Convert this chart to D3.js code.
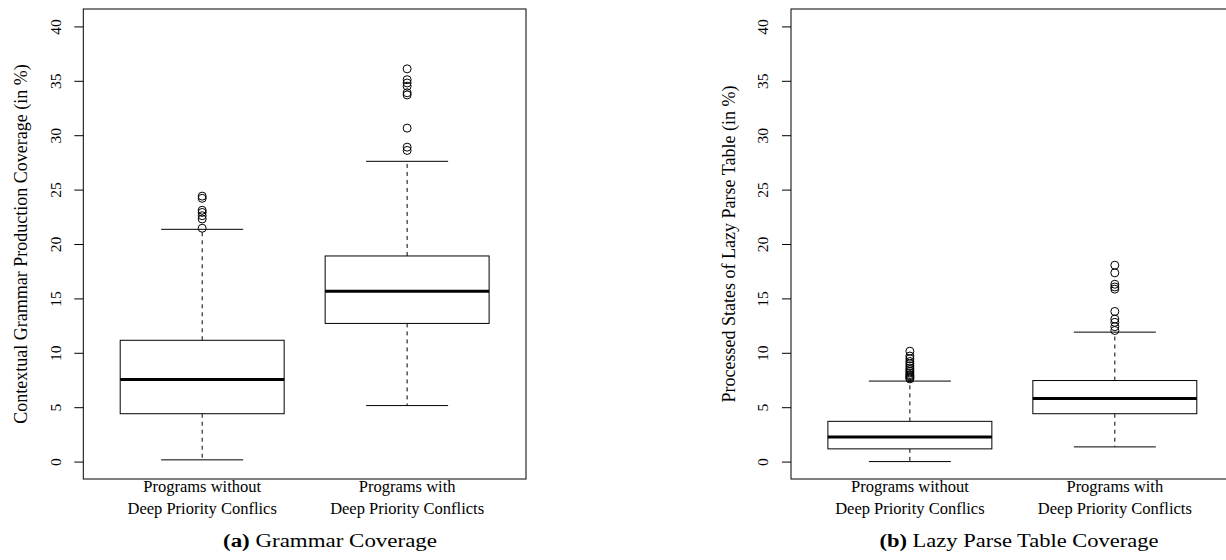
<!DOCTYPE html>
<html>
<head>
<meta charset="utf-8">
<script src="https://cdn.jsdelivr.net/npm/d3@7"></script>
<style>
  body { margin: 0; background: #fff; }
  svg { display: block; font-family: "Liberation Serif", "Times New Roman", serif; }
  .frame { fill: none; stroke: #000; stroke-width: 1; }
  .box { fill: #fff; stroke: #000; stroke-width: 1; }
  .median { stroke: #000; stroke-width: 3; }
  .whisker { stroke: #000; stroke-width: 1; stroke-dasharray: 4,4; }
  .staple { stroke: #000; stroke-width: 1; }
  .outlier { fill: none; stroke: #000; stroke-width: 1; }
  .axis line { stroke: #000; }
</style>
</head>
<body>
<div id="chart"></div>
<script>
// categories (two lines each)
const groupLines = [
  ["Programs without", "Deep Priority Conflics"],
  ["Programs with", "Deep Priority Conflicts"]
];
const yTicks = [0, 5, 10, 15, 20, 25, 30, 35, 40];

// box stats per group: [lower whisker, q1, median, q3, upper whisker]
const grammarStats = [
  [0.16, 4.4, 7.55, 11.15, 21.35],
  [5.15, 12.7, 15.65, 18.9, 27.6]
];
const grammarOutliers = [
  [21.45, 22.3, 22.6, 22.9, 23.1, 24.2, 24.4],
  [28.6, 28.9, 30.65, 33.7, 33.9, 34.5, 34.8, 35.1, 36.1]
];
const tableStats = [
  [0.0, 1.17, 2.25, 3.7, 7.4],
  [1.35, 4.4, 5.8, 7.45, 11.9]
];
const tableOutliers = [
  [7.6, 7.7, 7.8, 7.9, 8.0, 8.15, 8.3, 8.45, 8.6, 8.8, 9.0, 9.2, 9.45, 9.7, 10.15],
  [12.05, 12.4, 12.8, 13.1, 13.8, 15.85, 16.05, 16.3, 17.35, 18.05]
];

const W = 1226, H = 560;
const svg = d3.select("#chart").append("svg")
    .attr("width", W)
    .attr("height", H);

const plotTop = 9, plotBottom = 479, panelW = 442.7;

function drawPanel(opts) {
  const left = opts.left, right = left + panelW;
  const x = d3.scaleLinear().domain([0.42, 2.58]).range([left, right]);
  const y = d3.scaleLinear().domain([-1.6, 41.6]).range([plotBottom, plotTop]);
  const g = svg.append("g");
  const boxW = x(1.4) - x(0.6);
  const stapleW = x(1.2) - x(0.8);

  //---- boxes
  const grp = g.selectAll(".grp")
    .data(opts.stats.map((s, i) => ({ s: s, out: opts.outliers[i], pos: i + 1 })))
    .enter().append("g");

  grp.append("line").attr("class", "whisker")
    .attr("x1", d => x(d.pos)).attr("x2", d => x(d.pos))
    .attr("y1", d => y(d.s[3])).attr("y2", d => y(d.s[4]));
  grp.append("line").attr("class", "whisker")
    .attr("x1", d => x(d.pos)).attr("x2", d => x(d.pos))
    .attr("y1", d => y(d.s[1])).attr("y2", d => y(d.s[0]));
  grp.append("line").attr("class", "staple")
    .attr("x1", d => x(d.pos) - stapleW / 2).attr("x2", d => x(d.pos) + stapleW / 2)
    .attr("y1", d => y(d.s[4])).attr("y2", d => y(d.s[4]));
  grp.append("line").attr("class", "staple")
    .attr("x1", d => x(d.pos) - stapleW / 2).attr("x2", d => x(d.pos) + stapleW / 2)
    .attr("y1", d => y(d.s[0])).attr("y2", d => y(d.s[0]));
  grp.append("rect").attr("class", "box")
    .attr("x", d => x(d.pos) - boxW / 2)
    .attr("width", boxW)
    .attr("y", d => y(d.s[3]))
    .attr("height", d => y(d.s[1]) - y(d.s[3]));
  grp.append("line").attr("class", "median")
    .attr("x1", d => x(d.pos) - boxW / 2).attr("x2", d => x(d.pos) + boxW / 2)
    .attr("y1", d => y(d.s[2])).attr("y2", d => y(d.s[2]));
  grp.selectAll(".outlier")
    .data(d => d.out.map(v => ({ v: v, pos: d.pos })))
    .enter().append("circle").attr("class", "outlier")
    .attr("cx", d => x(d.pos)).attr("cy", d => y(d.v)).attr("r", 4);

  //---- frame
  g.append("rect").attr("class", "frame")
    .attr("x", left).attr("y", plotTop)
    .attr("width", right - left).attr("height", plotBottom - plotTop);

  //---- y axis
  const ax = g.append("g").attr("class", "axis")
    .attr("transform", "translate(" + left + ",0)")
    .call(d3.axisLeft(y).tickValues(yTicks).tickSize(9).tickFormat(d3.format("d")));
  ax.attr("font-family", "Liberation Serif, serif").attr("font-size", 15.5);
  ax.select(".domain").remove();
  ax.selectAll(".tick text")
    .attr("transform", "rotate(-90)")
    .attr("x", 0).attr("y", -28).attr("dy", "0.35em")
    .attr("fill", "#000")
    .style("font-family", "'Liberation Serif', serif")
    .style("text-anchor", "middle");

  g.append("text")
    .attr("transform", "translate(" + opts.titleX + "," + ((plotTop + plotBottom) / 2) + ") rotate(-90)")
    .attr("dy", "0.35em")
    .style("text-anchor", "middle")
    .style("font-size", "18px")
    .text(opts.title);

  //---- category labels
  const lab = g.selectAll(".cat").data(groupLines).enter().append("text")
    .attr("class", "cat")
    .style("text-anchor", "middle")
    .style("font-size", "16.5px");
  lab.append("tspan").attr("x", (d, i) => x(i + 1)).attr("y", 492).text(d => d[0]);
  lab.append("tspan").attr("x", (d, i) => x(i + 1)).attr("y", 514).text(d => d[1]);

  //---- caption
  const cap = svg.append("text")
    .attr("x", opts.capX).attr("y", 547)
    .attr("textLength", opts.capLen)
    .attr("lengthAdjust", "spacingAndGlyphs")
    .style("text-anchor", "middle")
    .style("font-size", "18px");
  cap.append("tspan").style("font-weight", "bold").text(opts.capTag);
  cap.append("tspan").text(" " + opts.capText);
}

drawPanel({
  left: 83.3, stats: grammarStats, outliers: grammarOutliers,
  title: "Contextual Grammar Production Coverage (in %)", titleX: 21,
  capX: 330, capLen: 214, capTag: "(a)", capText: "Grammar Coverage"
});
drawPanel({
  left: 791, stats: tableStats, outliers: tableOutliers,
  title: "Processed States of Lazy Parse Table (in %)", titleX: 729,
  capX: 1019, capLen: 279, capTag: "(b)", capText: "Lazy Parse Table Coverage"
});
</script>
</body>
</html>
